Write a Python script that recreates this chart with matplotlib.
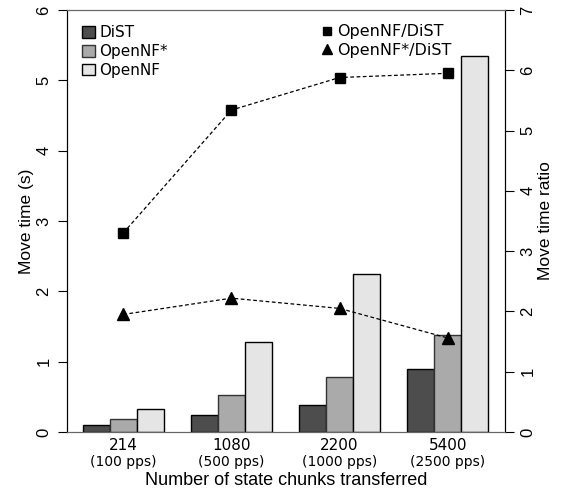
import matplotlib
matplotlib.use("Agg")
import matplotlib.pyplot as plt
from matplotlib.lines import Line2D
import numpy as np

chunks = ["214", "1080", "2200", "5400"]
rates = ["(100 pps)", "(500 pps)", "(1000 pps)", "(2500 pps)"]
dist = [0.10, 0.24, 0.38, 0.90]
opennf_star = [0.19, 0.53, 0.78, 1.38]
opennf = [0.32, 1.28, 2.25, 5.34]
ratio_opennf = [3.30, 5.34, 5.88, 5.95]
ratio_opennf_star = [1.95, 2.22, 2.05, 1.56]

plt.rcParams["font.family"] = "DejaVu Sans"
arial = "Liberation Sans"

fig = plt.figure(figsize=(5.61, 4.96), dpi=100)
ax = fig.add_axes([67 / 561, 64 / 496, 438 / 561, 422 / 496])
ax2 = ax.twinx()

x = np.arange(len(chunks))
w = 0.25
ax.bar(x - w, dist, w, color="#4d4d4d", edgecolor="black", linewidth=1, label="DiST")
ax.bar(x, opennf_star, w, color="#aaaaaa", edgecolor="#333333", linewidth=1, label="OpenNF*")
ax.bar(x + w, opennf, w, color="#e5e5e5", edgecolor="black", linewidth=1, label="OpenNF")

ax2.plot(x, ratio_opennf, ls=(0, (3, 2)), color="black", lw=0.9,
         marker="s", ms=7.5)
ax2.plot(x, ratio_opennf_star, ls=(0, (3, 2)), color="black", lw=0.9,
         marker="^", ms=8.5)

ax.set_xlim(-0.52, 3.53)
ax.set_ylim(0, 6)
ax2.set_ylim(0, 7)
ax.set_yticks(range(7))
ax2.set_yticks(range(8))
ax.set_xticks(x)
ax.set_xticklabels(chunks, fontsize=11)
ax.tick_params(axis="x", length=0, pad=4)
ax.tick_params(axis="y", length=6.5, labelsize=12, labelrotation=90, pad=10)
ax2.tick_params(axis="y", length=6.5, labelsize=12, labelrotation=90, pad=10)
for lab in ax.get_yticklabels() + ax2.get_yticklabels():
    lab.set_va("center")
    lab.set_ha("center")
    lab.set_family(arial)

for xi, r in zip(x, rates):
    ax.text(xi, -0.33, r, ha="center", va="top", fontsize=10)

ax.set_xlabel("Number of state chunks transferred", fontsize=13, labelpad=14,
              family=arial)
ax.set_ylabel("Move time (s)", fontsize=12.5, labelpad=2, family=arial)
ax2.set_ylabel("Move time ratio", fontsize=12.5, labelpad=2, family=arial)

for a in (ax, ax2):
    a.spines["top"].set_color("#666666")
    a.spines["bottom"].set_color("#666666")

ax.legend(loc="upper left", frameon=False, fontsize=11, handlelength=0.8,
          handleheight=0.8, handletextpad=0.3, labelspacing=0.25,
          borderaxespad=0.6)
handles = [Line2D([], [], ls="none", marker="s", ms=6, color="black"),
           Line2D([], [], ls="none", marker="^", ms=6.5, color="black")]
ax2.legend(handles, ["OpenNF/DiST", "OpenNF*/DiST"], loc="upper right",
           frameon=False, fontsize=11.5, handlelength=0.6, handletextpad=0.3,
           labelspacing=0.2, bbox_to_anchor=(0.91, 1.0))

fig.savefig("out.png", dpi=100)
